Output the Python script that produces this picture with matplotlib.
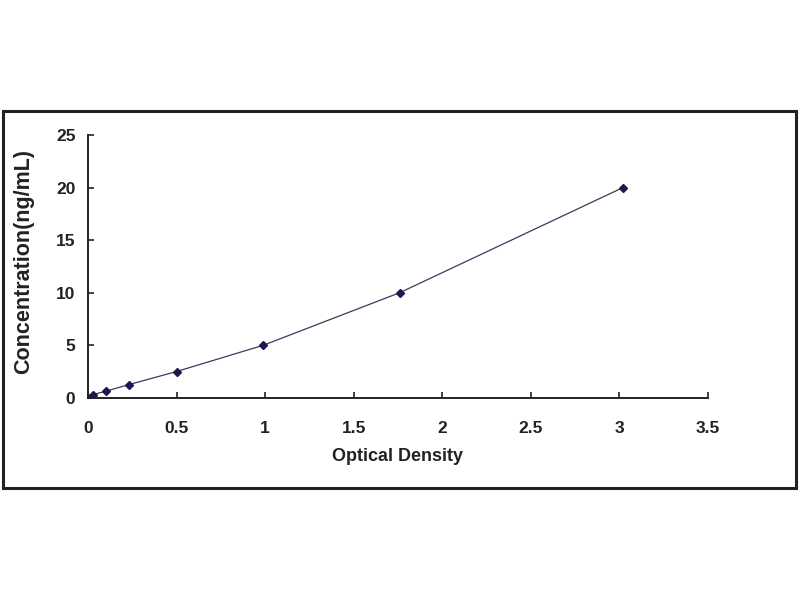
import matplotlib.pyplot as plt
from matplotlib.patches import Rectangle
from matplotlib.ticker import FuncFormatter

plt.rcParams['font.family'] = ['Liberation Sans', 'DejaVu Sans']

# standard curve points
optical_density = [0.0, 0.03, 0.10, 0.23, 0.50, 0.99, 1.76, 3.02]
concentration = [0.0, 0.31, 0.625, 1.25, 2.5, 5.0, 10.0, 20.0]

x_ticks = [0, 0.5, 1, 1.5, 2, 2.5, 3, 3.5]
y_ticks = [0, 5, 10, 15, 20, 25]

fig = plt.figure(figsize=(8, 6), dpi=100)

# outer frame around the chart
fig.patches.append(Rectangle((0.004, 0.187), 0.991, 0.628, transform=fig.transFigure,
                             fill=False, edgecolor='#222222', linewidth=2.2))

ax = fig.add_axes([0.11, 0.337, 0.775, 0.438])
ax.plot(optical_density, concentration, color='#3a3a5a', linewidth=0.9,
        marker='D', markersize=4.5, markerfacecolor='#1a1a50', markeredgecolor='#1a1a50')

ax.set_xlim(0, 3.5)
ax.set_ylim(0, 25)
ax.set_xticks(x_ticks)
ax.set_yticks(y_ticks)
ax.xaxis.set_major_formatter(FuncFormatter(lambda v, p: f'{v:g}'))

for side in ['top', 'right']:
    ax.spines[side].set_visible(False)
for side in ['left', 'bottom']:
    ax.spines[side].set_linewidth(1.4)
    ax.spines[side].set_color('#222222')

ax.tick_params(axis='x', direction='in', length=4, width=1.2, pad=17,
               labelsize=12.5, colors='#222222')
ax.tick_params(axis='y', direction='in', length=4, width=1.2, pad=9,
               labelsize=12.5, colors='#222222')
for lbl in ax.get_xticklabels() + ax.get_yticklabels():
    lbl.set_fontweight('bold')

ax.set_xlabel('Optical Density', fontsize=13, fontweight='bold', color='#222222', labelpad=8)
ax.set_ylabel('Concentration(ng/mL)', fontsize=15.5, fontweight='bold', color='#222222')
ax.yaxis.set_label_coords(-0.087, 0.52)

fig.savefig('out.png', dpi=100)
